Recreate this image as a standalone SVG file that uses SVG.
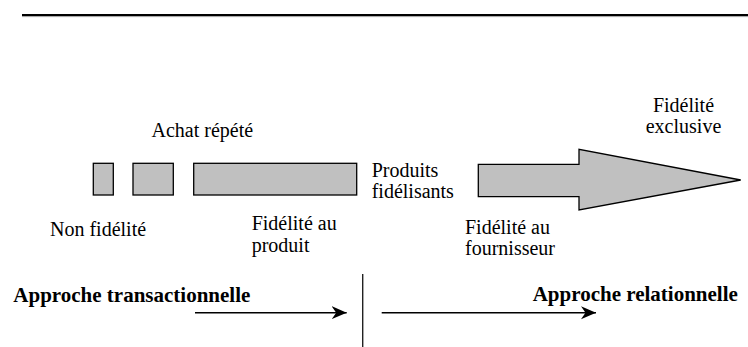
<svg xmlns="http://www.w3.org/2000/svg" width="748" height="347" viewBox="0 0 748 347">
<style>
text{font-family:"Liberation Serif","Times New Roman",serif;font-size:20px;fill:#000}
.b{font-weight:bold;font-size:21px}
.box{fill:#c0c0c0;stroke:#000;stroke-width:1.3}
.ln{stroke:#000;stroke-width:1.4;fill:none}
</style>
<defs>
<marker id="ah" markerUnits="userSpaceOnUse" markerWidth="17" markerHeight="14" refX="15" refY="7" orient="auto">
<path d="M0,0.5 L15,7 L0,13.5 L4.5,7 Z" fill="#000"/>
</marker>
</defs>
<g id="rule">
<line x1="22" y1="15" x2="748" y2="15" stroke="#000" stroke-width="2"/>
<line x1="22" y1="16.6" x2="748" y2="16.6" stroke="#888" stroke-width="0.8"/>
</g>
<g id="box1"><rect class="box" x="93.3" y="163.3" width="20" height="31.7"/></g>
<g id="box2"><rect class="box" x="133" y="163.3" width="40.3" height="31.7"/></g>
<g id="box3"><rect class="box" x="193.7" y="163.3" width="163" height="31.7"/></g>
<g id="bigarrow"><polygon class="box" points="478.3,164.3 579,164.3 579,149.3 740.7,180 579,210 579,196.7 478.3,196.7"/></g>
<g id="labels">
<text x="151.5" y="137.3">Achat répété</text>
<text x="683.5" y="111.7" text-anchor="middle">Fidélité</text>
<text x="683.5" y="133" text-anchor="middle">exclusive</text>
<text x="371.7" y="177">Produits</text>
<text x="371.7" y="198.3">fidélisants</text>
<text x="50" y="236">Non fidélité</text>
<text x="251.7" y="230">Fidélité au</text>
<text x="251.7" y="252">produit</text>
<text x="465" y="234">Fidélité au</text>
<text x="465" y="255">fournisseur</text>
<text class="b" x="13.3" y="301.5">Approche transactionnelle</text>
<text class="b" x="532.7" y="300.5">Approche relationnelle</text>
</g>
<g id="connectors">
<line class="ln" x1="195" y1="312.7" x2="346.7" y2="312.7" marker-end="url(#ah)"/>
<line class="ln" x1="381.7" y1="312.7" x2="596" y2="312.7" marker-end="url(#ah)"/>
<line x1="362.7" y1="274" x2="362.7" y2="347" stroke="#222" stroke-width="1.4"/>
</g>
</svg>
